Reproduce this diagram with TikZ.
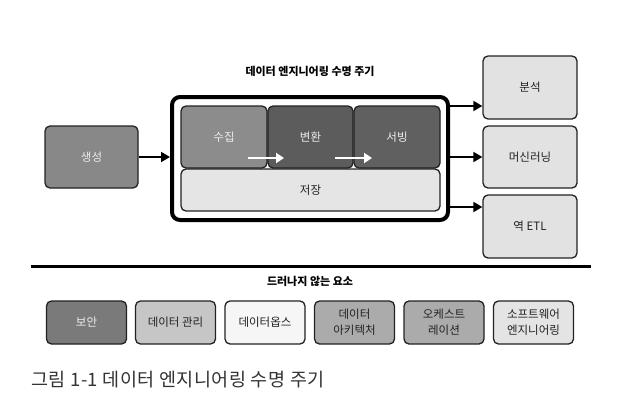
\documentclass[tikz,border=0pt]{standalone}
\usepackage{fontspec}
\setmainfont{Noto Sans CJK KR}
\newfontfamily\capfont{Noto Sans CJK KR}[LetterSpace=2.5]
\usetikzlibrary{arrows.meta}
\definecolor{edge}{HTML}{222222}
\definecolor{cgen}{HTML}{888888}
\definecolor{ccol}{HTML}{8C8C8C}
\definecolor{ctrans}{HTML}{5C5C5C}
\definecolor{cserve}{HTML}{606060}
\definecolor{cstore}{HTML}{E5E5E5}
\definecolor{cout}{HTML}{E2E2E2}
\definecolor{csec}{HTML}{7A7A7A}
\definecolor{cdm}{HTML}{C6C6C6}
\definecolor{cops}{HTML}{F6F6F6}
\definecolor{carch}{HTML}{ABABAB}
\definecolor{csw}{HTML}{E4E4E4}
\definecolor{ctxt}{HTML}{222222}
\definecolor{ccap}{HTML}{333333}
\tikzset{
  box/.style={draw=edge, line width=1.3pt, rounded corners=5pt, inner sep=2pt,
    font=\fontsize{11.5}{16}\selectfont, align=center, text=ctxt},
  topbox/.style={box, minimum height=62pt},
  outbox/.style={box, fill=cout, minimum width=94pt, minimum height=63pt},
  lowbox/.style={box, minimum width=80pt, minimum height=43pt},
  lighttext/.style={text=white!93!black},
  arr/.style={line width=1.8pt, -{Triangle[length=9pt,width=10pt]}},
  warr/.style={draw=white, line width=2.6pt, -{Triangle[length=8pt,width=10pt]}},
  heading/.style={font=\bfseries\fontsize{11}{13}\selectfont, text=black},
}
\begin{document}
\begin{tikzpicture}[x=1pt,y=-1pt]
\useasboundingbox[fill=white] (0,0) rectangle (628,400);

\node[heading] (title) at (310,71) {데이터 엔지니어링 수명 주기};

% generation
\node[topbox, fill=cgen, lighttext, minimum width=93pt] (gen) at (91.5,157) {생성};

% outer lifecycle box
\node[draw=black, line width=4pt, rounded corners=8pt, fill=white,
      minimum width=276pt, minimum height=123pt] (outer) at (310,158.5) {};

\node[topbox, fill=ccol, lighttext, minimum width=86pt] (col) at (224,137) {수집};
\node[topbox, fill=ctrans, lighttext, minimum width=85pt] (trans) at (310.5,137) {변환};
\node[topbox, fill=cserve, lighttext, minimum width=86pt] (serve) at (397,137) {서빙};
\node[box, fill=cstore, minimum width=259pt, minimum height=42pt] (store) at (310.5,190) {저장};

\coordinate (w1s) at (248,158);
\coordinate (w1e) at (284,158);
\coordinate (w2s) at (335,158);
\coordinate (w2e) at (372,158);
\draw[warr] (w1s) -- (w1e);
\draw[warr] (w2s) -- (w2e);

% outputs
\node[outbox] (ana) at (530,87.5) {분석};
\node[outbox, minimum height=62pt] (ml) at (530,157) {머신러닝};
\node[outbox] (retl) at (530,226.5) {역 ETL};

\draw[arr] (gen.east) -- (outer.west |- gen.east);
\draw[arr] (outer.east |- 0,106) -- (ana.west |- 0,106);
\draw[arr] (outer.east |- ml.west) -- (ml.west);
\draw[arr] (outer.east |- 0,207) -- (retl.west |- 0,207);

% separator
\coordinate (sepL) at (31,266);
\coordinate (sepR) at (591,266);
\draw[line width=3pt] (sepL) -- (sepR);

\node[heading] (under) at (310,281) {드러나지 않는 요소};

\node[lowbox, fill=csec, lighttext] (sec) at (86.5,322.5) {보안};
\node[lowbox, fill=cdm] (dm) at (175.5,322.5) {데이터 관리};
\node[lowbox, fill=cops] (ops) at (265,322.5) {데이터옵스};
\node[lowbox, fill=carch] (arch) at (354.5,322.5) {데이터\\아키텍처};
\node[lowbox, fill=carch] (orch) at (444,322.5) {오케스트\\레이션};
\node[lowbox, fill=csw] (sw) at (533.5,322.5) {소프트웨어\\엔지니어링};

\node[anchor=west, font=\capfont\fontsize{18.5}{22}\selectfont, text=ccap, inner sep=0pt] (cap) at (31,380) {그림 1-1 데이터 엔지니어링 수명 주기};
\end{tikzpicture}
\end{document}
